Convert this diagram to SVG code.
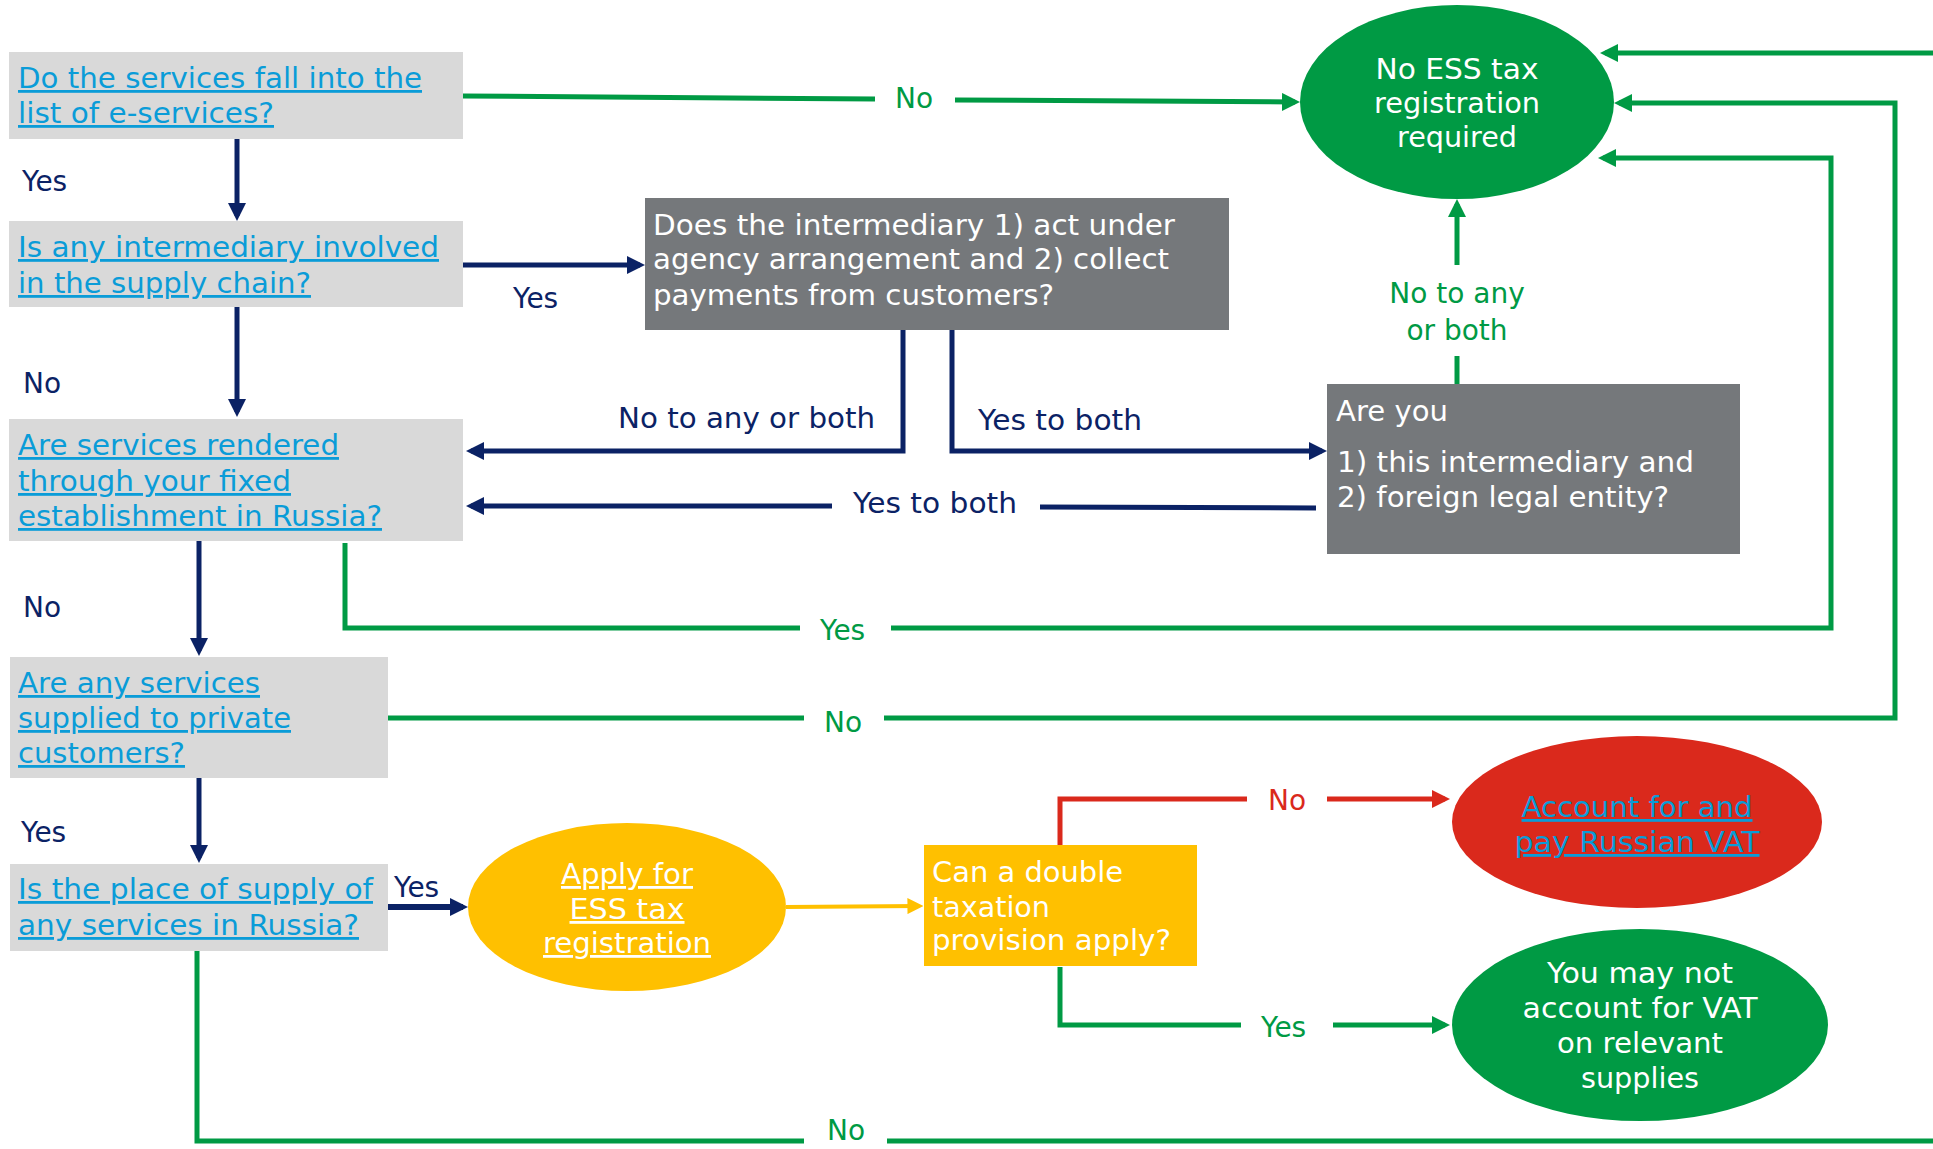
<svg xmlns="http://www.w3.org/2000/svg" width="1933" height="1149" viewBox="0 0 1933 1149">
<style>
text{font-family:"DejaVu Sans",Verdana,sans-serif;font-size:28px}
.q{fill:#d9d9d9}
.lk{fill:#0a9cd8;text-decoration:underline}
.wt{fill:#ffffff}
.wu{fill:#ffffff;text-decoration:underline}
.ln{fill:#0b2265}
.lg{fill:#009a44}
.lr{fill:#da291c}
.mid{text-anchor:middle}
.nv{stroke:#0b2265;stroke-width:5;fill:none}
.gr{stroke:#009a44;stroke-width:5;fill:none}
.rd{stroke:#da291c;stroke-width:5;fill:none}
.yl{stroke:#ffc000;stroke-width:4;fill:none}
</style>
<defs>
<marker id="an" markerUnits="userSpaceOnUse" markerWidth="18" markerHeight="18" viewBox="0 0 18 18" refX="13" refY="9" orient="auto"><path d="M0,0 L18,9 L0,18 z" fill="#0b2265"/></marker>
<marker id="ag" markerUnits="userSpaceOnUse" markerWidth="18" markerHeight="18" viewBox="0 0 18 18" refX="13" refY="9" orient="auto"><path d="M0,0 L18,9 L0,18 z" fill="#009a44"/></marker>
<marker id="ar" markerUnits="userSpaceOnUse" markerWidth="18" markerHeight="18" viewBox="0 0 18 18" refX="13" refY="9" orient="auto"><path d="M0,0 L18,9 L0,18 z" fill="#da291c"/></marker>
<marker id="ay" markerUnits="userSpaceOnUse" markerWidth="16" markerHeight="16" viewBox="0 0 18 18" refX="13" refY="9" orient="auto"><path d="M0,0 L18,9 L0,18 z" fill="#ffc000"/></marker>
</defs>
<rect width="1933" height="1149" fill="#ffffff"/>

<g id="connectors">
<path class="nv" d="M237,139 V216" marker-end="url(#an)"/>
<path class="nv" d="M463,265 H640" marker-end="url(#an)"/>
<path class="nv" d="M237,307 V412" marker-end="url(#an)"/>
<path class="nv" d="M903,330 V451 H471" marker-end="url(#an)"/>
<path class="nv" d="M952,327 V451 H1322" marker-end="url(#an)"/>
<path class="nv" d="M1316,508 L1040,507"/>
<path class="nv" d="M832,506 H471" marker-end="url(#an)"/>
<path class="nv" d="M199,541 V651" marker-end="url(#an)"/>
<path class="nv" d="M199,778 V858" marker-end="url(#an)"/>
<path class="nv" style="stroke-width:6" d="M388,907 H463" marker-end="url(#an)"/>

<path class="gr" d="M463,96 L875,99"/>
<path class="gr" d="M955,100 L1295,102" marker-end="url(#ag)"/>
<path class="gr" d="M1457,384 V356"/>
<path class="gr" d="M1457,265 V204" marker-end="url(#ag)"/>
<path class="gr" d="M345,543 V628 H800"/>
<path class="gr" d="M891,628 H1831 V158 H1603" marker-end="url(#ag)"/>
<path class="gr" d="M387,718 H804"/>
<path class="gr" d="M884,718 H1895 V103 H1619" marker-end="url(#ag)"/>
<path class="gr" d="M1933,53 H1605" marker-end="url(#ag)"/>
<path class="gr" d="M1060,967 V1025 H1241"/>
<path class="gr" d="M1333,1025 H1445" marker-end="url(#ag)"/>
<path class="gr" d="M197,951 V1141 H804"/>
<path class="gr" d="M887,1141 H1933"/>

<path class="rd" d="M1060,845 V799 H1247"/>
<path class="rd" d="M1327,799 H1445" marker-end="url(#ar)"/>

<path class="yl" d="M786,907 L919,906" marker-end="url(#ay)"/>

<text class="ln" x="22" y="191">Yes</text>
<text class="ln" x="513" y="308">Yes</text>
<text class="ln" x="23" y="393">No</text>
<text class="ln" x="618" y="428" textLength="257" lengthAdjust="spacingAndGlyphs">No to any or both</text>
<text class="ln" x="978" y="430" textLength="164" lengthAdjust="spacingAndGlyphs">Yes to both</text>
<text class="ln" x="853" y="513" textLength="164" lengthAdjust="spacingAndGlyphs">Yes to both</text>
<text class="ln" x="23" y="617">No</text>
<text class="ln" x="21" y="842">Yes</text>
<text class="ln" x="394" y="897">Yes</text>
<text class="lg" x="895" y="108">No</text>
<text class="lg mid" x="1457" y="303">No to any</text>
<text class="lg mid" x="1457" y="340">or both</text>
<text class="lg" x="820" y="640">Yes</text>
<text class="lg" x="824" y="732">No</text>
<text class="lr" x="1268" y="810">No</text>
<text class="lg" x="1261" y="1037">Yes</text>
<text class="lg" x="827" y="1140">No</text>
</g>

<g id="q1">
<rect class="q" x="9" y="52" width="454" height="87"/>
<text class="lk" x="18" y="88" textLength="404" lengthAdjust="spacingAndGlyphs">Do the services fall into the</text>
<text class="lk" x="18" y="123" textLength="256" lengthAdjust="spacingAndGlyphs">list of e-services?</text>
</g>

<g id="q2">
<rect class="q" x="9" y="221" width="454" height="86"/>
<text class="lk" x="18" y="257" textLength="421" lengthAdjust="spacingAndGlyphs">Is any intermediary involved</text>
<text class="lk" x="18" y="293" textLength="293" lengthAdjust="spacingAndGlyphs">in the supply chain?</text>
</g>

<g id="q3">
<rect class="q" x="9" y="419" width="454" height="122"/>
<text class="lk" x="18" y="455" textLength="321" lengthAdjust="spacingAndGlyphs">Are services rendered</text>
<text class="lk" x="18" y="491" textLength="273" lengthAdjust="spacingAndGlyphs">through your fixed</text>
<text class="lk" x="18" y="526" textLength="364" lengthAdjust="spacingAndGlyphs">establishment in Russia?</text>
</g>

<g id="q4">
<rect class="q" x="10" y="657" width="378" height="121"/>
<text class="lk" x="18" y="693" textLength="242" lengthAdjust="spacingAndGlyphs">Are any services</text>
<text class="lk" x="18" y="728" textLength="273" lengthAdjust="spacingAndGlyphs">supplied to private</text>
<text class="lk" x="18" y="763" textLength="167" lengthAdjust="spacingAndGlyphs">customers?</text>
</g>

<g id="q5">
<rect class="q" x="10" y="864" width="378" height="87"/>
<text class="lk" x="18" y="899" textLength="355" lengthAdjust="spacingAndGlyphs">Is the place of supply of</text>
<text class="lk" x="18" y="935" textLength="341" lengthAdjust="spacingAndGlyphs">any services in Russia?</text>
</g>

<g id="agency">
<rect x="645" y="198" width="584" height="132" fill="#75787b"/>
<text class="wt" x="653" y="235" textLength="522" lengthAdjust="spacingAndGlyphs">Does the intermediary 1) act under</text>
<text class="wt" x="653" y="269" textLength="516" lengthAdjust="spacingAndGlyphs">agency arrangement and 2) collect</text>
<text class="wt" x="653" y="305" textLength="401" lengthAdjust="spacingAndGlyphs">payments from customers?</text>
</g>

<g id="areyou">
<rect x="1327" y="384" width="413" height="170" fill="#75787b"/>
<text class="wt" x="1336" y="421" textLength="112" lengthAdjust="spacingAndGlyphs">Are you</text>
<text class="wt" x="1337" y="472" textLength="357" lengthAdjust="spacingAndGlyphs">1) this intermediary and</text>
<text class="wt" x="1337" y="507" textLength="332" lengthAdjust="spacingAndGlyphs">2) foreign legal entity?</text>
</g>

<g id="noess">
<ellipse cx="1457" cy="102" rx="157" ry="97" fill="#009a44"/>
<text class="wt mid" x="1457" y="79" textLength="163" lengthAdjust="spacingAndGlyphs">No ESS tax</text>
<text class="wt mid" x="1457" y="113" textLength="166" lengthAdjust="spacingAndGlyphs">registration</text>
<text class="wt mid" x="1457" y="147" textLength="120" lengthAdjust="spacingAndGlyphs">required</text>
</g>

<g id="apply">
<ellipse cx="627" cy="907" rx="159" ry="84" fill="#ffc000"/>
<text class="wu mid" x="627" y="884" textLength="132" lengthAdjust="spacingAndGlyphs">Apply for</text>
<text class="wu mid" x="627" y="919" textLength="115" lengthAdjust="spacingAndGlyphs">ESS tax</text>
<text class="wu mid" x="627" y="953" textLength="168" lengthAdjust="spacingAndGlyphs">registration</text>
</g>

<g id="dtt">
<rect x="924" y="845" width="273" height="121" fill="#ffc000"/>
<text class="wt" x="932" y="882" textLength="191" lengthAdjust="spacingAndGlyphs">Can a double</text>
<text class="wt" x="932" y="917" textLength="118" lengthAdjust="spacingAndGlyphs">taxation</text>
<text class="wt" x="932" y="950" textLength="239" lengthAdjust="spacingAndGlyphs">provision apply?</text>
</g>

<g id="payvat">
<ellipse cx="1637" cy="822" rx="185" ry="86" fill="#da291c"/>
<text class="lk mid" x="1637" y="817" textLength="231" lengthAdjust="spacingAndGlyphs">Account for and</text>
<text class="lk mid" x="1637" y="852" textLength="245" lengthAdjust="spacingAndGlyphs">pay Russian VAT</text>
</g>

<g id="novat">
<ellipse cx="1640" cy="1025" rx="188" ry="96" fill="#009a44"/>
<text class="wt mid" x="1640" y="983" textLength="186" lengthAdjust="spacingAndGlyphs">You may not</text>
<text class="wt mid" x="1640" y="1018" textLength="235" lengthAdjust="spacingAndGlyphs">account for VAT</text>
<text class="wt mid" x="1640" y="1053" textLength="166" lengthAdjust="spacingAndGlyphs">on relevant</text>
<text class="wt mid" x="1640" y="1088" textLength="118" lengthAdjust="spacingAndGlyphs">supplies</text>
</g>
</svg>
